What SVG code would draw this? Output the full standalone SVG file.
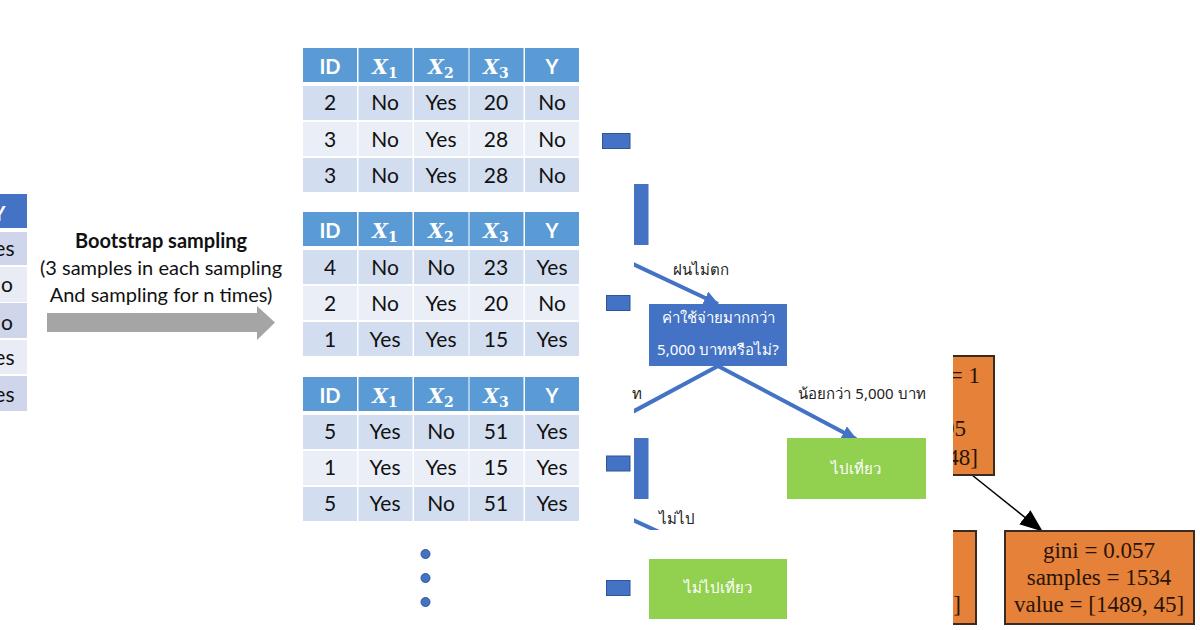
<svg xmlns="http://www.w3.org/2000/svg" width="1200" height="630" viewBox="0 0 1200 630">
<style>
text{font-family:"Lato","Open Sans","Noto Sans",sans-serif;text-anchor:middle}
.cell{font-size:21px;fill:#111}
.hd{font-size:20px;font-weight:700;fill:#fff}
.mx{font-family:"DejaVu Serif","Liberation Serif",serif;font-size:20px;font-weight:700;font-style:italic;fill:#fff}
.sub{font-size:14px;font-style:normal}
.h{fill:#5b9bd5}.a{fill:#d2deef}.b{fill:#eaeff7}
.ha{fill:#4472c4}.la{fill:#cfd5ea}.lb{fill:#e9ebf5}
.blue{fill:#4472c4}.green{fill:#92d050}
.th{font-family:"Noto Sans","Noto Sans CJK SC",sans-serif;font-size:15px;fill:#222}
.thw{font-family:"Noto Sans","Noto Sans CJK SC",sans-serif;font-size:15px;fill:#fff}
.link{fill:none;stroke:#4472c4;stroke-width:4}
.or{fill:#e58139;stroke:#3a2a20;stroke-width:2}
.ot{font-family:"Liberation Serif",serif;font-size:23px;fill:#2a1408}
.cap{font-size:20px;fill:#111}
</style>
<defs>
<marker id="ah" markerUnits="userSpaceOnUse" markerWidth="16" markerHeight="14" refX="14" refY="7" orient="auto"><path d="M0 0L15 7L0 14z" fill="#4472c4"/></marker>
<marker id="bh" markerUnits="userSpaceOnUse" markerWidth="24" markerHeight="20" refX="22" refY="10" orient="auto"><path d="M0 1L23 10L0 19z" fill="#000"/></marker>
<clipPath id="cR"><rect x="953" y="340" width="247" height="290"/></clipPath>
<clipPath id="cL"><rect x="634" y="250" width="160" height="280"/></clipPath>
<g id="rowx">
<rect x="303" width="54" height="34"/><rect x="358.500" width="54" height="34"/><rect x="414" width="54.500" height="34"/><rect x="469.500" width="54" height="34"/><rect x="525" width="54" height="34"/>
</g>
<g id="head">
<use href="#rowx" class="h"/>
<text class="hd" x="330" y="26">ID</text>
<text class="mx" x="385" y="26">X<tspan class="sub" dy="4">1</tspan></text>
<text class="mx" x="441" y="26">X<tspan class="sub" dy="4">2</tspan></text>
<text class="mx" x="496" y="26">X<tspan class="sub" dy="4">3</tspan></text>
<text class="hd" x="552" y="26">Y</text>
</g>
</defs>
<rect width="1200" height="630" fill="#fff"/>

<g id="source-table">
<rect class="ha" x="0" y="194" width="27" height="34"/>
<rect class="la" x="0" y="232" width="27" height="33"/>
<rect class="lb" x="0" y="267" width="27" height="35"/>
<rect class="la" x="0" y="303" width="27" height="35"/>
<rect class="lb" x="0" y="340" width="27" height="34"/>
<rect class="la" x="0" y="376" width="27" height="35"/>
<text class="hd" x="-1" y="221">Y</text>
<text class="cell" x="-1" y="256">Yes</text>
<text class="cell" x="-1" y="292">No</text>
<text class="cell" x="-1" y="330">No</text>
<text class="cell" x="-1" y="365">Yes</text>
<text class="cell" x="-1" y="402">Yes</text>
</g>

<g id="bootstrap-label">
<text class="cap" x="161" y="248" font-weight="700">Bootstrap sampling</text>
<text class="cap" x="161" y="275">(3 samples in each sampling</text>
<text class="cap" x="161" y="302">And sampling for n times)</text>
</g>
<path id="bootstrap-arrow" d="M47 313H257V306L275 322.500L257 340V332H47z" fill="#a5a5a5"/>

<g id="sample-1">
<use href="#head" y="48"/>
<use href="#rowx" y="86" class="a"/><use href="#rowx" y="122" class="b"/><use href="#rowx" y="158" class="a"/>
<g class="cell">
<text class="cell" x="330" y="110">2</text><text class="cell" x="385" y="110">No</text><text class="cell" x="441" y="110">Yes</text><text class="cell" x="496" y="110">20</text><text class="cell" x="552" y="110">No</text>
<text class="cell" x="330" y="147">3</text><text class="cell" x="385" y="147">No</text><text class="cell" x="441" y="147">Yes</text><text class="cell" x="496" y="147">28</text><text class="cell" x="552" y="147">No</text>
<text class="cell" x="330" y="183">3</text><text class="cell" x="385" y="183">No</text><text class="cell" x="441" y="183">Yes</text><text class="cell" x="496" y="183">28</text><text class="cell" x="552" y="183">No</text>
</g>
</g>
<g id="sample-2">
<use href="#head" y="212"/>
<use href="#rowx" y="250" class="a"/><use href="#rowx" y="286" class="b"/><use href="#rowx" y="322" class="a"/>
<text class="cell" x="330" y="275">4</text><text class="cell" x="385" y="275">No</text><text class="cell" x="441" y="275">No</text><text class="cell" x="496" y="275">23</text><text class="cell" x="552" y="275">Yes</text>
<text class="cell" x="330" y="311">2</text><text class="cell" x="385" y="311">No</text><text class="cell" x="441" y="311">Yes</text><text class="cell" x="496" y="311">20</text><text class="cell" x="552" y="311">No</text>
<text class="cell" x="330" y="347">1</text><text class="cell" x="385" y="347">Yes</text><text class="cell" x="441" y="347">Yes</text><text class="cell" x="496" y="347">15</text><text class="cell" x="552" y="347">Yes</text>
</g>
<g id="sample-3">
<use href="#head" y="377"/>
<use href="#rowx" y="415" class="a"/><use href="#rowx" y="451" class="b"/><use href="#rowx" y="487" class="a"/>
<text class="cell" x="330" y="439">5</text><text class="cell" x="385" y="439">Yes</text><text class="cell" x="441" y="439">No</text><text class="cell" x="496" y="439">51</text><text class="cell" x="552" y="439">Yes</text>
<text class="cell" x="330" y="475">1</text><text class="cell" x="385" y="475">Yes</text><text class="cell" x="441" y="475">Yes</text><text class="cell" x="496" y="475">15</text><text class="cell" x="552" y="475">Yes</text>
<text class="cell" x="330" y="511">5</text><text class="cell" x="385" y="511">Yes</text><text class="cell" x="441" y="511">No</text><text class="cell" x="496" y="511">51</text><text class="cell" x="552" y="511">Yes</text>
</g>
<g id="dots" fill="#4472c4" stroke="#2f5597" stroke-width="1">
<circle cx="425.500" cy="554" r="4.500"/><circle cx="425.500" cy="578" r="4.500"/><circle cx="425.500" cy="602" r="4.500"/>
</g>

<g id="small-rects" class="blue" stroke="#2f5597" stroke-width="1">
<rect x="602.500" y="133.500" width="27.500" height="15"/>
<rect x="606.500" y="295.500" width="23.500" height="15"/>
<rect x="606.500" y="456" width="23.500" height="15"/>
<rect x="606.500" y="580.500" width="23.500" height="15"/>
</g>
<rect id="bar-1" class="blue" x="634" y="184" width="14.500" height="61"/>
<rect id="bar-2" class="blue" x="634" y="438" width="14.500" height="61"/>

<g id="connectors">
<g clip-path="url(#cL)">
<path class="link" d="M620 258L718 304" marker-end="url(#ah)"/>
<path class="link" d="M718 366L610 424"/>
<path class="link" d="M620 514L718 559" marker-end="url(#ah)"/>
</g>
<path class="link" d="M718 366L856 439" marker-end="url(#ah)"/>
<path d="M972 475L1042 531" fill="none" stroke="#000" stroke-width="1.500" marker-end="url(#bh)"/>
</g>

<g id="edge-labels">
<text class="th" x="701" y="275">ฝนไม่ตก</text>
<text class="th" x="862" y="399">น้อยกว่า 5,000 บาท</text>
<text class="th" x="637" y="399">ท</text>
<text class="th" x="677" y="524">ไม่ไป</text>
</g>

<g id="decision">
<rect class="blue" x="649" y="304" width="138" height="62"/>
<text class="thw" x="718" y="323">ค่าใช้จ่ายมากกว่า</text>
<text class="thw" x="718" y="355">5,000 บาทหรือไม่?</text>
</g>
<g id="leaf-go">
<rect class="green" x="787" y="438" width="139" height="61"/>
<text class="thw" x="856" y="474">ไปเที่ยว</text>
</g>
<g id="leaf-stay">
<rect class="green" x="649" y="559" width="138" height="60"/>
<text class="thw" x="718" y="593">ไม่ไปเที่ยว</text>
</g>

<g id="tree-top" clip-path="url(#cR)">
<rect class="or" x="900" y="356" width="94" height="119"/>
<text class="ot" x="980" y="383" style="text-anchor:end">= 1</text>
<text class="ot" x="966" y="436" style="text-anchor:end">95</text>
<text class="ot" x="978" y="465" style="text-anchor:end">48]</text>
</g>
<g id="tree-left" clip-path="url(#cR)">
<rect class="or" x="880" y="531" width="96" height="93"/>
<text class="ot" x="961" y="612" style="text-anchor:end">5]</text>
</g>
<g id="tree-right">
<rect class="or" x="1005" y="531" width="189" height="93"/>
<text class="ot" x="1099" y="558">gini = 0.057</text>
<text class="ot" x="1099" y="585">samples = 1534</text>
<text class="ot" x="1099" y="612">value = [1489, 45]</text>
</g>
</svg>
